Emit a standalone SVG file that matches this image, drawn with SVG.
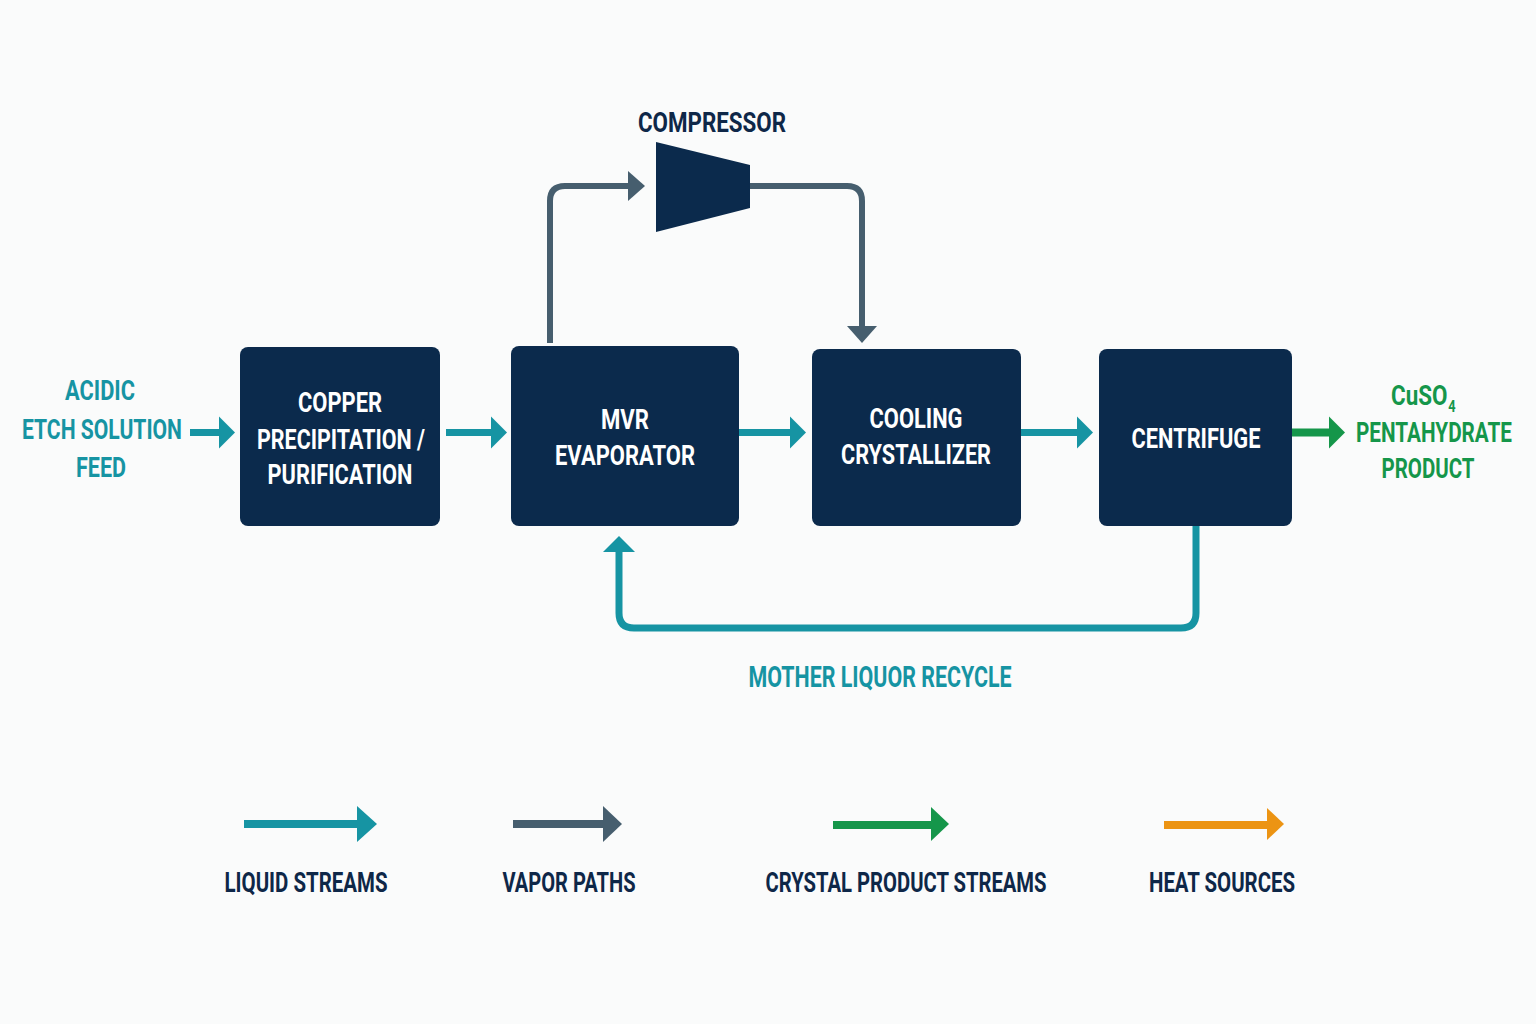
<svg xmlns="http://www.w3.org/2000/svg" width="1536" height="1024" viewBox="0 0 1536 1024">
<defs>
<style>
.bg{fill:#fafbfb}
.box{fill:#0b2a4c}
.t{font-family:Roboto,"Liberation Sans",sans-serif;font-weight:700;font-size:28px;text-anchor:middle}
.w{fill:#ffffff}
.n{fill:#0e2748}
.teal{fill:#1694a3}
.grn{fill:#15964a}
.lt{fill:none;stroke:#1694a3;stroke-width:7}
.ls{fill:none;stroke:#465e6e;stroke-width:6}
.lg{fill:none;stroke:#15964a;stroke-width:8}
.lo{fill:none;stroke:#ec9413;stroke-width:8}
</style>
<marker id="hT" markerUnits="userSpaceOnUse" markerWidth="17" markerHeight="32" refX="0" refY="16" orient="auto" overflow="visible"><path d="M0,0 L16,16 L0,32 z" fill="#1694a3"/></marker>
<marker id="hG" markerUnits="userSpaceOnUse" markerWidth="17" markerHeight="32" refX="0" refY="16" orient="auto" overflow="visible"><path d="M0,0 L16,16 L0,32 z" fill="#15964a"/></marker>
<marker id="hS" markerUnits="userSpaceOnUse" markerWidth="18" markerHeight="30" refX="0" refY="15" orient="auto" overflow="visible"><path d="M0,0 L17,15 L0,30 z" fill="#465e6e"/></marker>
<marker id="hTL" markerUnits="userSpaceOnUse" markerWidth="20" markerHeight="36" refX="0" refY="18" orient="auto" overflow="visible"><path d="M0,0 L20,18 L0,36 z" fill="#1694a3"/></marker>
<marker id="hSL" markerUnits="userSpaceOnUse" markerWidth="20" markerHeight="36" refX="0" refY="18" orient="auto" overflow="visible"><path d="M0,0 L19,18 L0,36 z" fill="#465e6e"/></marker>
<marker id="hGL" markerUnits="userSpaceOnUse" markerWidth="20" markerHeight="36" refX="0" refY="18" orient="auto" overflow="visible"><path d="M0,0 L18,17 L0,34 z" fill="#15964a"/></marker>
<marker id="hOL" markerUnits="userSpaceOnUse" markerWidth="20" markerHeight="36" refX="0" refY="18" orient="auto" overflow="visible"><path d="M0,1 L17,17 L0,33 z" fill="#ec9413"/></marker>
</defs>
<rect class="bg" x="0" y="0" width="1536" height="1024"/>

<g id="connectors">
<line class="lt" x1="190" y1="432.5" x2="219" y2="432.5" marker-end="url(#hT)"/>
<line class="lt" x1="446" y1="432.5" x2="491" y2="432.5" marker-end="url(#hT)"/>
<line class="lt" x1="739" y1="432.5" x2="790" y2="432.5" marker-end="url(#hT)"/>
<line class="lt" x1="1021" y1="432.5" x2="1077" y2="432.5" marker-end="url(#hT)"/>
<line class="lg" x1="1292" y1="432.5" x2="1329" y2="432.5" marker-end="url(#hG)"/>
<path class="ls" d="M550,343 V201 Q550,186 565,186 H628" marker-end="url(#hS)"/>
<path class="ls" d="M750,186 H847 Q862,186 862,201 V326" marker-end="url(#hS)"/>
<path class="lt" d="M1196,526 V613 Q1196,628 1181,628 H634 Q619,628 619,613 V552" marker-end="url(#hT)"/>
</g>

<g id="compressor">
<polygon points="656,142 750,165 750,208 656,232" fill="#0b2a4c"/>
<text class="t n" x="712" y="132" textLength="148" lengthAdjust="spacingAndGlyphs">COMPRESSOR</text>
</g>

<g id="feed">
<text class="t teal" x="100" y="400" textLength="70" lengthAdjust="spacingAndGlyphs">ACIDIC</text>
<text class="t teal" x="102" y="439" textLength="160" lengthAdjust="spacingAndGlyphs">ETCH SOLUTION</text>
<text class="t teal" x="101" y="477" textLength="50" lengthAdjust="spacingAndGlyphs">FEED</text>
</g>

<g id="copper-precipitation">
<rect class="box" x="240" y="347" width="200" height="179" rx="8"/>
<text class="t w" x="340" y="412" textLength="84" lengthAdjust="spacingAndGlyphs">COPPER</text>
<text class="t w" x="341" y="449" textLength="168" lengthAdjust="spacingAndGlyphs">PRECIPITATION /</text>
<text class="t w" x="340" y="484" textLength="145" lengthAdjust="spacingAndGlyphs">PURIFICATION</text>
</g>

<g id="mvr-evaporator">
<rect class="box" x="511" y="346" width="228" height="180" rx="8"/>
<text class="t w" x="625" y="429" textLength="48" lengthAdjust="spacingAndGlyphs">MVR</text>
<text class="t w" x="625" y="465" textLength="140" lengthAdjust="spacingAndGlyphs">EVAPORATOR</text>
</g>

<g id="cooling-crystallizer">
<rect class="box" x="812" y="349" width="209" height="177" rx="8"/>
<text class="t w" x="916" y="428" textLength="93" lengthAdjust="spacingAndGlyphs">COOLING</text>
<text class="t w" x="916" y="464" textLength="150" lengthAdjust="spacingAndGlyphs">CRYSTALLIZER</text>
</g>

<g id="centrifuge">
<rect class="box" x="1099" y="349" width="193" height="177" rx="8"/>
<text class="t w" x="1196" y="448" textLength="129" lengthAdjust="spacingAndGlyphs">CENTRIFUGE</text>
</g>

<g id="product">
<text class="t grn" transform="translate(1391,405) scale(0.8,1)" x="0" y="0" style="text-anchor:start">CuSO<tspan dx="1" dy="7" style="font-size:16px">4</tspan></text>
<text class="t grn" transform="translate(1434,442) scale(0.8,1)" x="0" y="0" textLength="195" lengthAdjust="spacingAndGlyphs">PENTAHYDRATE</text>
<text class="t grn" x="1428" y="478" textLength="93" lengthAdjust="spacingAndGlyphs">PRODUCT</text>
</g>

<g id="recycle-label">
<text class="t teal" x="880" y="687" style="font-size:29px" textLength="263" lengthAdjust="spacingAndGlyphs">MOTHER LIQUOR RECYCLE</text>
</g>

<g id="legend">
<line class="lt" style="stroke-width:8" x1="244" y1="824" x2="357" y2="824" marker-end="url(#hTL)"/>
<line class="ls" style="stroke-width:8" x1="513" y1="824" x2="603" y2="824" marker-end="url(#hSL)"/>
<line class="lg" x1="833" y1="825" x2="931" y2="825" marker-end="url(#hGL)"/>
<line class="lo" x1="1164" y1="825" x2="1267" y2="825" marker-end="url(#hOL)"/>
<text class="t n" x="306" y="892" textLength="163" lengthAdjust="spacingAndGlyphs">LIQUID STREAMS</text>
<text class="t n" x="569" y="892" textLength="133" lengthAdjust="spacingAndGlyphs">VAPOR PATHS</text>
<text class="t n" x="906" y="892" textLength="281" lengthAdjust="spacingAndGlyphs">CRYSTAL PRODUCT STREAMS</text>
<text class="t n" x="1222" y="892" textLength="146" lengthAdjust="spacingAndGlyphs">HEAT SOURCES</text>
</g>
</svg>
